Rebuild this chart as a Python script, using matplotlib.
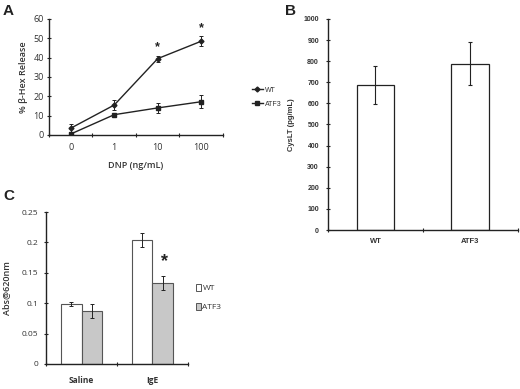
import matplotlib
matplotlib.use("Agg")
import matplotlib.pyplot as plt
import numpy as np
from matplotlib.patches import Patch

# ---- data ----
dnp_labels = ["0", "1", "10", "100"]
wt_release = [3.5, 15.5, 39.5, 48.5]
wt_release_err = [2.0, 2.5, 1.5, 2.5]
atf3_release = [0.5, 10.5, 14.0, 17.2]
atf3_release_err = [0.8, 0.5, 2.5, 3.5]
star_a_idx = [2, 3]

b_groups = ["WT", "ATF3"]
cyslt = [688, 787]
cyslt_err = [90, 102]

c_groups = ["Saline", "IgE"]
c_wt = [0.099, 0.204]
c_wt_err = [0.003, 0.012]
c_atf3 = [0.087, 0.133]
c_atf3_err = [0.012, 0.012]

dark = "#222222"
txt = "#333333"
plt.rcParams["text.color"] = txt
plt.rcParams["xtick.labelcolor"] = txt
plt.rcParams["ytick.labelcolor"] = txt
plt.rcParams["axes.labelcolor"] = txt
fig = plt.figure(figsize=(5.2, 3.89), dpi=100)
calib = ["Open Sans", "DejaVu Sans"]
arial = ["Liberation Sans", "DejaVu Sans"]

# ---------- Panel A ----------
axA = fig.add_axes([0.0942, 0.653, 0.3346, 0.2982])
x = np.arange(len(dnp_labels))
lw, = axA.plot(x, wt_release, color=dark, marker="D", ms=2.5, lw=1.0, label="WT")
axA.errorbar(x, wt_release, yerr=wt_release_err, fmt="none", ecolor=dark, elinewidth=0.7, capsize=1.5, capthick=0.7)
la, = axA.plot(x, atf3_release, color=dark, marker="s", ms=2.5, lw=1.0, label="ATF3")
axA.errorbar(x, atf3_release, yerr=atf3_release_err, fmt="none", ecolor=dark, elinewidth=0.7, capsize=1.5, capthick=0.7)
for i in star_a_idx:
    axA.text(x[i], wt_release[i] + wt_release_err[i] + 1.2, "*", ha="center", va="bottom",
             fontsize=9, fontweight="bold", color=dark, family=arial)
axA.set_xlim(-0.5, 3.5)
axA.set_ylim(0, 60)
axA.set_yticks(np.arange(0, 61, 10))
axA.set_xticks(x)
axA.set_xticklabels(dnp_labels, family=calib, fontsize=6.5)
axA.set_xticks(np.arange(-0.5, 3.6, 1), minor=True)
axA.tick_params(axis="x", which="major", length=0, pad=6)
axA.tick_params(axis="x", which="minor", length=3, direction="inout", width=0.8, color=dark)
axA.tick_params(axis="y", length=3, direction="inout", width=0.8, color=dark, labelsize=6.5, pad=2)
for lab in axA.get_yticklabels():
    lab.set_family(calib)
axA.set_xlabel("DNP (ng/mL)", family=calib, fontsize=6.5, fontweight="semibold", labelpad=6)
axA.set_ylabel("% β-Hex Release", family=calib, fontsize=6.5, fontweight="semibold", labelpad=4)
for s in ["top", "right"]:
    axA.spines[s].set_visible(False)
for s in ["left", "bottom"]:
    axA.spines[s].set_color(dark)
    axA.spines[s].set_linewidth(1.0)
fig.legend(handles=[lw, la], labels=["WT", "ATF3"], loc="center left",
           bbox_to_anchor=(0.472, 0.75), frameon=False,
           handlelength=1.6, handletextpad=0.3, labelspacing=1.0,
           prop={"family": arial, "size": 5})

# ---------- Panel B ----------
axB = fig.add_axes([0.6308, 0.4087, 0.3652, 0.5425])
xb = np.arange(len(b_groups))
axB.bar(xb, cyslt, width=0.4, color="white", edgecolor=dark, linewidth=0.9)
axB.errorbar(xb, cyslt, yerr=cyslt_err, fmt="none", ecolor=dark, elinewidth=0.8, capsize=1.5, capthick=0.8)
axB.set_xlim(-0.5, 1.5)
axB.set_ylim(0, 1000)
axB.set_yticks(np.arange(0, 1001, 100))
axB.set_xticks(xb)
axB.set_xticklabels(b_groups, family=arial, fontsize=5.5, fontweight="bold")
axB.set_xticks([-0.5, 0.5, 1.5], minor=True)
axB.tick_params(axis="x", which="major", length=0, pad=6)
axB.tick_params(axis="x", which="minor", length=3, direction="inout", width=0.8, color=dark)
axB.tick_params(axis="y", length=3, direction="inout", width=0.8, color=dark, labelsize=5, pad=5)
for lab in axB.get_yticklabels():
    lab.set_family(arial)
    lab.set_fontweight("bold")
axB.set_ylabel("CysLT (pg/mL)", family=arial, fontsize=5.5, fontweight="bold", labelpad=6)
for s in ["top", "right"]:
    axB.spines[s].set_visible(False)
for s in ["left", "bottom"]:
    axB.spines[s].set_color(dark)
    axB.spines[s].set_linewidth(1.0)

# ---------- Panel C ----------
axC = fig.add_axes([0.0885, 0.0643, 0.273, 0.3907])
xc = np.arange(len(c_groups))
bw = 0.29
axC.bar(xc - bw / 2, c_wt, width=bw, color="white", edgecolor="#555555", linewidth=0.8)
axC.bar(xc + bw / 2, c_atf3, width=bw, color="#c8c8c8", edgecolor="#555555", linewidth=0.8)
axC.errorbar(xc - bw / 2, c_wt, yerr=c_wt_err, fmt="none", ecolor=dark, elinewidth=0.7, capsize=1.5, capthick=0.7)
axC.errorbar(xc + bw / 2, c_atf3, yerr=c_atf3_err, fmt="none", ecolor=dark, elinewidth=0.7, capsize=1.5, capthick=0.7)
axC.text(xc[1] + bw / 2 + 0.03, c_atf3[1] + c_atf3_err[1] + 0.010, "*", ha="center", va="bottom",
         fontsize=13, fontweight="bold", color=dark, family=arial)
axC.set_xlim(-0.5, 1.5)
axC.set_ylim(0, 0.25)
axC.set_yticks([0, 0.05, 0.1, 0.15, 0.2, 0.25])
axC.set_yticklabels(["0", "0.05", "0.1", "0.15", "0.2", "0.25"])
axC.set_xticks(xc)
axC.set_xticklabels(c_groups, family=calib, fontsize=6, fontweight="bold")
axC.set_xticks([-0.5, 0.5, 1.5], minor=True)
axC.tick_params(axis="x", which="major", length=0, pad=9)
axC.tick_params(axis="x", which="minor", length=3, direction="inout", width=0.8, color=dark)
axC.tick_params(axis="y", length=3, direction="inout", width=0.8, color=dark, labelsize=6, pad=4)
for lab in axC.get_yticklabels():
    lab.set_family(calib)
axC.set_ylabel("Abs@620nm", family=calib, fontsize=6.5, fontweight="semibold", labelpad=8)
for s in ["top", "right"]:
    axC.spines[s].set_visible(False)
for s in ["left", "bottom"]:
    axC.spines[s].set_color(dark)
    axC.spines[s].set_linewidth(1.0)
fig.legend(handles=[Patch(facecolor="white", edgecolor="#555555", lw=0.7),
                    Patch(facecolor="#c8c8c8", edgecolor="#555555", lw=0.7)],
           labels=["WT", "ATF3"], loc="center left", bbox_to_anchor=(0.362, 0.235),
           frameon=False, handlelength=0.6, handleheight=0.9, handletextpad=0.2,
           labelspacing=1.3, prop={"family": calib, "size": 6})

# ---------- panel letters ----------
for lbl, (px, py) in {"A": (3, 4), "B": (285, 4), "C": (3, 189)}.items():
    fig.text(px / 520, 1 - py / 389, lbl, ha="left", va="top", fontsize=11,
             fontweight="bold", family=arial, color=dark)

fig.savefig("out.png", dpi=100)
